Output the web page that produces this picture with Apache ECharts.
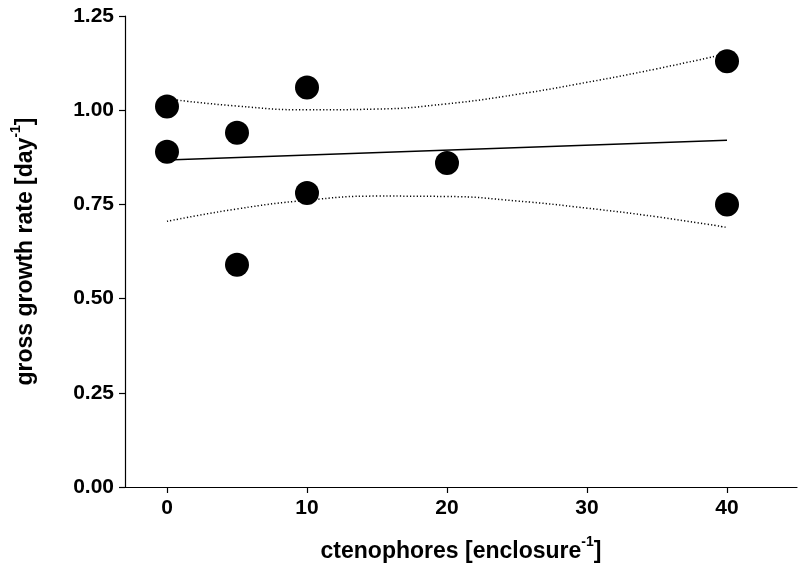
<!DOCTYPE html>
<html>
<head>
<meta charset="utf-8">
<script src="https://cdn.jsdelivr.net/npm/echarts@6/dist/echarts.min.js"></script>
<style>
  html, body { margin: 0; padding: 0; background: #fff; }
  #chart { width: 799px; height: 572px; }
</style>
</head>
<body>
<div id="chart"></div>
<script>
// measured points
const pointsX = [0, 0, 5, 5, 10, 10, 20, 40, 40];
const pointsY = [1.01, 0.89, 0.94, 0.59, 1.06, 0.78, 0.86, 1.13, 0.75];

// fitted line (read at both ends)
const fitX = [0, 40];
const fitY = [0.868, 0.920];

// confidence band
const bandX = [0, 5, 10, 15, 20, 25, 30, 35, 40];
const bandUpper = [1.030, 1.011, 1.001, 1.003, 1.017, 1.042, 1.074, 1.110, 1.150];
const bandLower = [0.705, 0.738, 0.761, 0.772, 0.771, 0.759, 0.740, 0.717, 0.689];

const xTicks = [0, 10, 20, 30, 40];

const FONT = 'Liberation Sans';
const zip = (xs, ys) => xs.map((x, i) => [x, ys[i]]);

const chart = echarts.init(document.getElementById('chart'));

const axisText = { color: '#000', fontFamily: FONT, fontWeight: 'bold', fontSize: 21 };
const titleRich = {
  a: { color: '#000', fontFamily: FONT, fontWeight: 'bold', fontSize: 23, lineHeight: 28, verticalAlign: 'bottom' },
  s: { color: '#000', fontFamily: FONT, fontWeight: 'bold', fontSize: 14, lineHeight: 14, verticalAlign: 'top' }
};

const bandStyle = { color: '#000', width: 1.5, type: [1.2, 2.2] };

chart.setOption({
  animation: false,
  grid: { left: 125, right: 2, top: 16, bottom: 85 },
  xAxis: {
    type: 'value',
    min: -3,
    max: 45,
    name: '{a|ctenophores [enclosure}{s|-1}{a|]}',
    nameLocation: 'middle',
    nameGap: 48,
    nameTextStyle: { rich: titleRich },
    splitLine: { show: false },
    axisLine: { onZero: false, lineStyle: { color: '#000', width: 1.2 } },
    axisTick: { length: 6, customValues: xTicks, lineStyle: { color: '#000', width: 1.2 } },
    axisLabel: Object.assign({ margin: 11, customValues: xTicks }, axisText)
  },
  yAxis: {
    type: 'value',
    min: 0,
    max: 1.25,
    interval: 0.25,
    name: '{a|gross growth rate [day}{s|-1}{a|]}',
    nameLocation: 'middle',
    nameRotate: 90,
    nameGap: 88,
    nameTextStyle: { rich: titleRich },
    splitLine: { show: false },
    axisLine: { show: true, onZero: false, lineStyle: { color: '#000', width: 1.2 } },
    axisTick: { show: true, length: 6, lineStyle: { color: '#000', width: 1.2 } },
    axisLabel: Object.assign({ margin: 11, formatter: v => v.toFixed(2) }, axisText)
  },
  series: [
    {
      type: 'line',
      data: zip(fitX, fitY),
      symbol: 'none',
      lineStyle: { color: '#000', width: 1.5 },
      z: 2
    },
    {
      type: 'line',
      data: zip(bandX, bandUpper),
      symbol: 'none',
      smooth: true,
      lineStyle: bandStyle,
      z: 2
    },
    {
      type: 'line',
      data: zip(bandX, bandLower),
      symbol: 'none',
      smooth: true,
      lineStyle: bandStyle,
      z: 2
    },
    {
      type: 'scatter',
      data: zip(pointsX, pointsY),
      symbol: 'circle',
      symbolSize: 24,
      itemStyle: { color: '#000', opacity: 1 },
      z: 5
    }
  ]
});
</script>
</body>
</html>
